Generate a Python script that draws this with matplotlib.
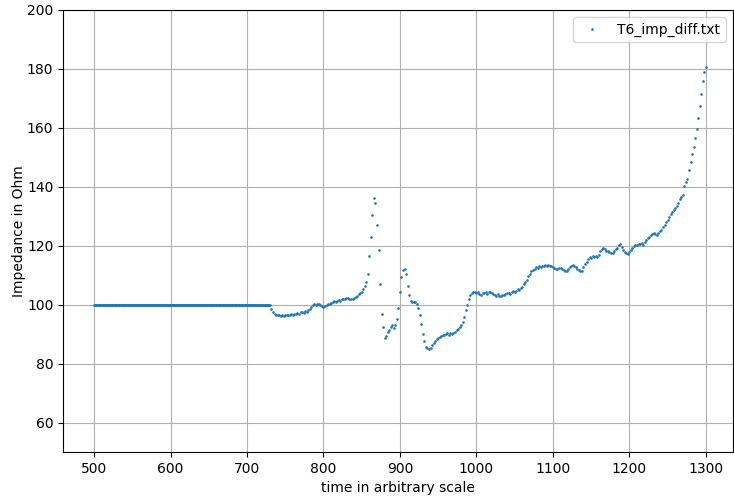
import numpy as np
import matplotlib.pyplot as plt

# baseline before the measurement starts, sampled densely
time_flat = np.arange(500, 731, 1)
flat = [100.0] * len(time_flat)

# measured impedance, one sample every 2 units (732..1300)
time_meas = np.arange(732, 1301, 2)
measured = [
    98.4, 97.6, 97.0, 96.7, 96.5, 96.4, 96.3, 96.5, 96.2, 96.6,
    96.4, 96.7, 96.5, 96.9, 96.6, 97.0, 96.8, 97.2, 97.0, 97.4,
    97.5, 97.3, 97.9, 97.7, 98.3, 98.6, 99.3, 99.9, 100.2, 99.8,
    100.2, 100.4, 100.0, 99.6, 99.3, 99.7, 100.0, 100.4, 100.2, 100.7,
    100.9, 101.2, 100.8, 101.3, 101.6, 101.4, 101.8, 102.1, 101.9, 102.3,
    102.3, 102.1, 101.9, 102.0, 102.2, 102.6, 103.0, 103.5, 104.1, 104.5,
    105.3, 106.5, 107.8, 110.5, 116.5, 123.0, 130.5, 136.3, 134.5, 127.0,
    118.5, 107.0, 97.0, 92.3, 88.6, 89.4, 90.8, 91.6, 92.4, 93.0,
    92.2, 93.1, 95.2, 99.0, 104.5, 109.5, 111.8, 112.3, 110.5, 106.5,
    103.2, 101.3, 100.8, 101.1, 100.9, 100.3, 99.0, 96.6, 93.5, 90.0,
    87.6, 85.8, 85.2, 85.0, 85.3, 86.4, 87.2, 87.8, 88.4, 88.9,
    89.2, 89.5, 89.8, 89.6, 90.1, 90.3, 89.9, 90.4, 90.2, 90.5,
    90.9, 91.3, 91.8, 92.3, 93.2, 94.0, 96.0, 98.2, 100.0, 101.8,
    103.2, 104.0, 104.2, 104.4, 104.1, 104.3, 103.7, 103.4, 104.1, 103.9,
    104.2, 103.8, 104.4, 104.3, 103.9, 103.6, 103.4, 103.1, 103.5, 102.9,
    103.0, 103.4, 103.2, 103.7, 103.9, 104.0, 103.6, 104.2, 104.6, 104.4,
    104.8, 105.3, 105.1, 105.6, 106.1, 106.9, 107.6, 108.5, 109.7, 110.6,
    111.3, 111.9, 112.3, 112.7, 112.5, 113.0, 112.8, 113.2, 113.0, 113.4,
    113.1, 113.5, 113.3, 113.0, 112.8, 112.4, 112.0, 112.3, 112.6, 112.4,
    112.1, 111.7, 111.3, 111.5, 112.2, 112.8, 113.1, 113.5, 113.3, 112.8,
    112.2, 111.8, 111.4, 111.6, 112.8, 113.7, 114.6, 115.6, 116.1, 115.8,
    116.4, 116.1, 116.5, 116.2, 117.0, 118.4, 119.0, 119.3, 118.8, 118.2,
    118.4, 117.8, 117.4, 117.7, 118.3, 118.9, 119.4, 120.2, 120.6, 119.5,
    118.6, 118.0, 117.5, 117.1, 117.8, 118.6, 119.2, 119.9, 120.4, 120.2,
    120.7, 120.5, 120.9, 120.4, 121.3, 122.0, 122.6, 123.1, 123.6, 124.1,
    124.3, 124.0, 123.7, 124.2, 125.0, 125.4, 126.3, 127.2, 128.0, 128.9,
    129.8, 130.7, 131.4, 132.1, 132.9, 133.5, 134.6, 135.8, 136.6, 137.4,
    140.2, 141.5, 142.8, 145.6, 148.3, 151.2, 153.6, 156.5, 159.5, 163.5,
    167.5, 171.5, 175.8, 179.0, 180.8,
]

time = np.concatenate([time_flat, time_meas])
impedance = np.array(flat + measured)

fig = plt.figure(figsize=(7.34, 4.98), dpi=100)
ax = fig.add_subplot(111)
fig.subplots_adjust(left=0.086, right=0.9986, top=0.98, bottom=0.092)

ax.plot(time, impedance, '.', markersize=1.8, label='T6_imp_diff.txt')
ax.set_xlim(459.5, 1335.5)
ax.set_ylim(50, 200)
ax.grid(True)
ax.legend(loc='upper right')
ax.set_xlabel('time in arbitrary scale')
ax.set_ylabel('Impedance in Ohm', labelpad=1)

fig.savefig('out.png', dpi=100)
